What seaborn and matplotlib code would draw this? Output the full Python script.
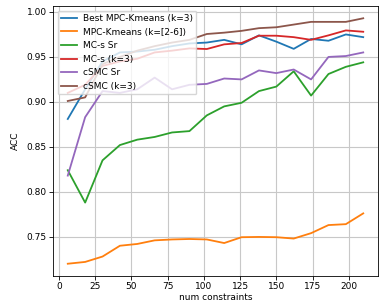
import numpy as np
import pandas as pd
import matplotlib
matplotlib.use("Agg")
import matplotlib.pyplot as plt
import seaborn as sns

# number of constraints (x axis)
num_constraints = [6, 18, 30, 42, 54, 66, 78, 90, 102, 114, 126, 138, 150, 162, 174, 186, 198, 210]

best_mpc_kmeans = [0.881, 0.914, 0.945, 0.955, 0.956, 0.958, 0.962, 0.965, 0.966, 0.969,
                   0.964, 0.974, 0.967, 0.959, 0.970, 0.968, 0.975, 0.972]
mpc_kmeans_range = [0.720, 0.722, 0.728, 0.740, 0.742, 0.746, 0.747, 0.7475, 0.747, 0.743,
                    0.7495, 0.7498, 0.7495, 0.748, 0.754, 0.763, 0.764, 0.776]
mcs_sr = [0.824, 0.788, 0.835, 0.852, 0.858, 0.861, 0.866, 0.8675, 0.885, 0.895,
          0.899, 0.912, 0.917, 0.934, 0.907, 0.931, 0.939, 0.944]
mcs_k3 = [0.910, 0.919, 0.940, 0.945, 0.948, 0.955, 0.957, 0.9595, 0.9588, 0.964,
          0.9655, 0.9736, 0.9736, 0.972, 0.969, 0.974, 0.9795, 0.978]
csmc_sr = [0.818, 0.883, 0.912, 0.910, 0.914, 0.927, 0.914, 0.919, 0.920, 0.926,
           0.925, 0.935, 0.932, 0.936, 0.925, 0.950, 0.951, 0.955]
csmc_k3 = [0.901, 0.905, 0.942, 0.950, 0.957, 0.962, 0.966, 0.969, 0.9755, 0.977,
           0.979, 0.982, 0.983, 0.986, 0.989, 0.989, 0.989, 0.993]

series_names = ['Best MPC-Kmeans (k=3)', 'MPC-Kmeans (k=[2-6])', 'MC-s Sr',
                'MC-s (k=3)', 'cSMC Sr', 'cSMC (k=3)']
series_values = [best_mpc_kmeans, mpc_kmeans_range, mcs_sr, mcs_k3, csmc_sr, csmc_k3]

# long format for seaborn
frames = []
for name, vals in zip(series_names, series_values):
    frames.append(pd.DataFrame({'num constraints': num_constraints, 'ACC': vals, 'method': name}))
df = pd.concat(frames, ignore_index=True)

plt.rcParams['font.family'] = ['DejaVu Sans']
plt.rcParams['font.size'] = 6.5

fig = plt.figure(figsize=(3.84, 3.06), dpi=100)
ax = fig.add_axes([53 / 384, 30 / 306, 325 / 384, 270 / 306])

sns.lineplot(data=df, x='num constraints', y='ACC', hue='method',
             hue_order=series_names, palette='tab10', linewidth=1.3, ax=ax)

ax.grid(True, color='#c8c8c8', linewidth=0.8)
ax.set_axisbelow(True)
ax.tick_params(labelsize=6.5, length=3, width=0.6, pad=1.5)
for s in ax.spines.values():
    s.set_linewidth(0.6)
ax.set_xlabel('num constraints', fontsize=6.5, labelpad=1.5)
ax.set_ylabel('ACC', fontsize=6.5, labelpad=5)

ax.legend(loc='upper left', fontsize=6.5, framealpha=0.8, handlelength=1.8,
          handletextpad=0.6, borderpad=0.4, labelspacing=0.5)

fig.savefig('out.png', dpi=100)
